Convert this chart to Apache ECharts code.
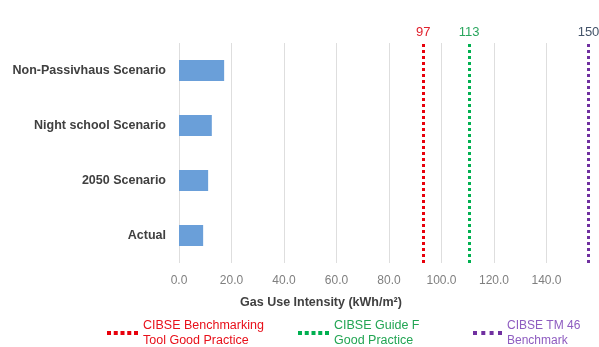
<!DOCTYPE html>
<html>
<head>
<meta charset="utf-8">
<script src="https://cdn.jsdelivr.net/npm/echarts@6/dist/echarts.min.js"></script>
<style>
html, body { margin: 0; padding: 0; background: #fff; }
#chart { width: 599px; height: 347px; }
</style>
</head>
<body>
<div id="chart"></div>
<script>
// values
const categories = ["Actual", "2050 Scenario", "Night school Scenario", "Non-Passivhaus Scenario"]
const gasUse = [9.2, 11.1, 12.5, 17.2]
const benchNames = ["CIBSE Benchmarking\nTool Good Practice", "CIBSE Guide F\nGood Practice", "CIBSE TM 46\nBenchmark"]
const benchLabels = ["97", "113", "150"]
// where the dotted lines actually sit on the axis
const benchPos = [93, 110.5, 156]

const lineColors = ["#e8000b", "#00b050", "#7030a0"]
const labelColors = ["#e0202c", "#2aa65e", "#44546a"]
const legendColors = ["#e8101a", "#22a553", "#8e5cc0"]
const legendLeft = [102, 293, 468]
const dots5 = "path://M0,0h4v4h-4zM6.75,0h4v4h-4zM13.5,0h4v4h-4zM20.25,0h4v4h-4zM27,0h4v4h-4z"
const dots4 = "path://M0,0h4v4h-4zM8.3,0h4v4h-4zM16.6,0h4v4h-4zM25,0h4v4h-4z"
const icons = [dots5, dots5, dots4]
const iconW = [31, 31, 29]

let series = [
  {
    type: "bar",
    data: gasUse,
    barWidth: 21,
    itemStyle: { color: "#6a9fd9" },
    silent: true
  }
]
benchNames.forEach((name, i) => {
  series.push({
    name: name,
    type: "line",
    data: [],
    color: lineColors[i],
    markLine: {
      silent: true,
      symbol: "none",
      lineStyle: { type: [3, 3], width: 3, color: lineColors[i], cap: "butt" },
      label: {
        position: "end",
        distance: 4,
        color: labelColors[i],
        fontSize: 13,
        fontFamily: "Liberation Sans, Arial",
        formatter: () => benchLabels[i]
      },
      data: [{ xAxis: benchPos[i] }]
    }
  })
})

let legends = benchNames.map((name, i) => ({
  left: legendLeft[i],
  top: 313,
  itemWidth: iconW[i],
  itemHeight: 4,
  selectedMode: false,
  data: [{
    name: name,
    icon: icons[i],
    itemStyle: { color: lineColors[i] },
    textStyle: { color: legendColors[i] }
  }],
  textStyle: {
    fontSize: i === 2 ? 12 : 12.5,
    lineHeight: 15,
    fontFamily: "Liberation Sans, Arial"
  }
}))

let option = {
  animation: false,
  backgroundColor: "#fff",
  grid: { left: 179, right: -1, top: 43, bottom: 84 },
  xAxis: {
    type: "value",
    min: 0,
    max: 160,
    interval: 20,
    axisLine: { show: false },
    axisTick: { show: false },
    splitLine: { lineStyle: { color: "#dedede", width: 1 } },
    axisLabel: {
      margin: 12,
      showMaxLabel: false,
      color: "#7f7f7f",
      fontSize: 12,
      fontFamily: "Liberation Sans, Arial",
      formatter: (v) => v.toFixed(1)
    }
  },
  yAxis: {
    type: "category",
    data: categories,
    axisLine: { show: false },
    axisTick: { show: false },
    axisLabel: {
      margin: 13,
      color: "#404040",
      fontSize: 12.5,
      fontWeight: "bold",
      fontFamily: "Liberation Sans, Arial"
    }
  },
  legend: legends,
  graphic: [
    {
      type: "text",
      x: 321,
      y: 303,
      silent: true,
      style: {
        text: "Gas Use Intensity (kWh/m²)",
        fill: "#404040",
        font: "bold 12.5px 'Liberation Sans', Arial",
        textAlign: "center",
        textVerticalAlign: "middle"
      }
    }
  ],
  series: series
}

const myChart = echarts.init(document.getElementById("chart"))
myChart.setOption(option)
</script>
</body>
</html>
